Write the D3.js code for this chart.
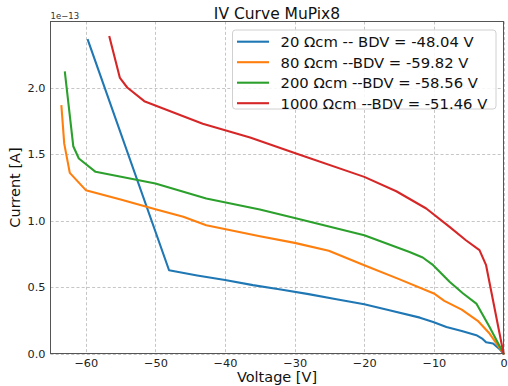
<!DOCTYPE html>
<html>
<head>
<meta charset="utf-8">
<script src="https://cdn.jsdelivr.net/npm/d3@7"></script>
<style>
  html, body { margin: 0; padding: 0; background: #fff; }
  svg { display: block; font-family: "DejaVu Sans", sans-serif; }
</style>
</head>
<body>
<svg id="chart" width="508" height="386"></svg>
<script>
// IV measurements of MuPix8 sensors (voltage in V, current in units of 1e-13 A)
const seriesNames = ["20 Ωcm -- BDV = -48.04 V", "80 Ωcm --BDV = -59.82 V",
                     "200 Ωcm --BDV = -58.56 V", "1000 Ωcm --BDV = -51.46 V"];
const seriesColors = ["#1f77b4", "#ff7f0e", "#2ca02c", "#d62728"];

const v20   = [-59.7, -48.04, -44, -40, -36, -32, -28, -24, -20, -16.4, -12, -10.1, -8.2, -6, -3.9, -3, -2.5, -1.5, -0.5, 0];
const i20   = [2.36, 0.627, 0.588, 0.553, 0.515, 0.482, 0.447, 0.408, 0.371, 0.326, 0.27, 0.238, 0.2, 0.17, 0.138, 0.11, 0.085, 0.075, 0.03, 0];

const v80   = [-63.5, -63.1, -62.3, -60.0, -55, -50, -46, -42.7, -35, -30, -25.1, -20, -15, -10, -8.5, -6, -3.7, -2, 0];
const i80   = [1.862, 1.58, 1.36, 1.23, 1.16, 1.087, 1.03, 0.966, 0.883, 0.833, 0.773, 0.665, 0.56, 0.452, 0.396, 0.33, 0.246, 0.15, 0];

const v200  = [-63.0, -61.8, -61.0, -58.6, -50, -42.7, -35, -30, -20, -13.5, -11.6, -10.1, -7.75, -5.8, -3.9, -2.0, 0];
const i200  = [2.116, 1.561, 1.468, 1.368, 1.28, 1.167, 1.084, 1.021, 0.891, 0.765, 0.723, 0.665, 0.54, 0.452, 0.376, 0.2, 0];

const v1000 = [-56.6, -55.1, -54.05, -51.6, -43.2, -36.4, -30, -20, -15.4, -11.1, -7.75, -5.4, -3.45, -2.5, 0];
const i1000 = [2.384, 2.075, 2.003, 1.9, 1.73, 1.626, 1.51, 1.33, 1.222, 1.092, 0.953, 0.853, 0.778, 0.665, 0];

const xTicks = [-60, -50, -40, -30, -20, -10, 0];
const yTicks = [0.0, 0.5, 1.0, 1.5, 2.0];

const series = [
  { v: v20, i: i20 }, { v: v80, i: i80 }, { v: v200, i: i200 }, { v: v1000, i: i1000 }
].map((s, k) => ({ name: seriesNames[k], color: seriesColors[k],
                   points: s.v.map((v, j) => [v, s.i[j]]) }));

const svg = d3.select("#chart");
const plot = { left: 50.5, right: 503.5, top: 21.5, bottom: 353.5 };

const x = d3.scaleLinear().domain([-65, 0]).range([plot.left + 0.5, plot.right]);
const y = d3.scaleLinear().domain([0, 2.5]).range([plot.bottom, plot.top]);

// grid
const grid = svg.append("g").attr("class", "grid")
  .attr("stroke", "#b8b8b8").attr("stroke-width", 0.8)
  .attr("stroke-dasharray", "3,2.2");
grid.selectAll("line.gx").data(xTicks).join("line")
  .attr("x1", d => Math.round(x(d)) + 0.5).attr("x2", d => Math.round(x(d)) + 0.5)
  .attr("y1", plot.top).attr("y2", plot.bottom);
grid.selectAll("line.gy").data(yTicks).join("line")
  .attr("y1", d => Math.round(y(d)) + 0.5).attr("y2", d => Math.round(y(d)) + 0.5)
  .attr("x1", plot.left).attr("x2", plot.right);

// curves
const line = d3.line().x(d => x(d[0])).y(d => y(d[1]));
svg.append("g").selectAll("path").data(series).join("path")
  .attr("d", d => line(d.points))
  .attr("fill", "none")
  .attr("stroke", d => d.color)
  .attr("stroke-width", 2.1)
  .attr("stroke-linejoin", "round")
  .attr("stroke-linecap", "square");

// axes
const fmtX = d3.format("d");
const xAxis = svg.append("g").attr("transform", `translate(0,${plot.bottom})`)
  .call(d3.axisBottom(x).tickValues(xTicks).tickSize(0).tickPadding(5).tickFormat(fmtX));
const yAxis = svg.append("g").attr("transform", `translate(${plot.left},0)`)
  .call(d3.axisLeft(y).tickValues(yTicks).tickSize(0).tickPadding(5).tickFormat(d3.format(".1f")));
[xAxis, yAxis].forEach(a => {
  a.select(".domain").remove();
  a.selectAll("text").attr("font-family", "DejaVu Sans, sans-serif")
    .attr("font-size", 11.3).attr("fill", "#222");
});

// frame
svg.append("rect")
  .attr("x", plot.left).attr("y", plot.top)
  .attr("width", plot.right - plot.left).attr("height", plot.bottom - plot.top)
  .attr("fill", "none").attr("stroke", "#555").attr("stroke-width", 1);

// offset text, title and axis labels
svg.append("text").attr("x", plot.left).attr("y", 18.5)
  .attr("font-size", 8.5).attr("fill", "#333").text("1e\u221213");
svg.append("text").attr("x", (plot.left + plot.right) / 2).attr("y", 18.5)
  .attr("text-anchor", "middle").attr("font-size", 15.5).attr("fill", "#111")
  .text("IV Curve MuPix8");
svg.append("text").attr("x", (plot.left + plot.right) / 2).attr("y", 381.5)
  .attr("text-anchor", "middle").attr("font-size", 14.5).attr("fill", "#111")
  .text("Voltage [V]");
svg.append("text")
  .attr("transform", `translate(19.5,${(plot.top + plot.bottom) / 2}) rotate(-90)`)
  .attr("text-anchor", "middle").attr("font-size", 14.5).attr("fill", "#111")
  .text("Current [A]");

// legend
const legend = svg.append("g").attr("transform", "translate(232.5,30)");
legend.append("rect").attr("width", 263.5).attr("height", 79).attr("rx", 3)
  .attr("fill", "rgba(255,255,255,0.85)").attr("stroke", "#d0d0d0").attr("stroke-width", 1);
const entries = legend.selectAll("g.entry").data(series).join("g")
  .attr("transform", (d, k) => `translate(0,${11.7 + k * 20.5})`);
entries.append("line").attr("x1", 4.5).attr("x2", 36.5)
  .attr("stroke", d => d.color).attr("stroke-width", 2.1);
entries.append("text").attr("x", 48).attr("y", 0).attr("dy", "0.36em")
  .attr("font-size", 14.8).attr("fill", "#111").text(d => d.name);
</script>
</body>
</html>
